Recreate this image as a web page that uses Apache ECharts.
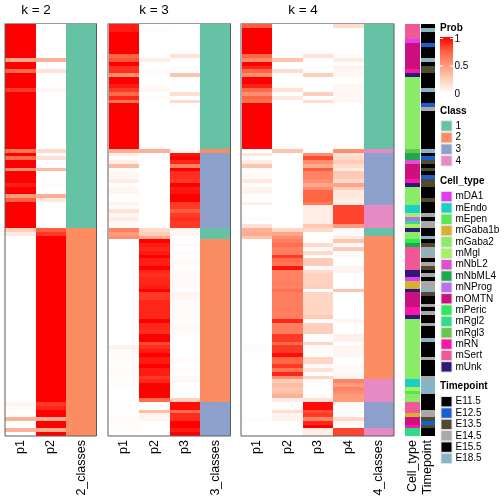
<!DOCTYPE html>
<html><head><meta charset="utf-8">
<style>html,body{margin:0;padding:0;background:#fff}#c{width:504px;height:504px}</style>
<script src="https://cdn.jsdelivr.net/npm/echarts@6/dist/echarts.min.js"></script>
</head><body><div id="c"></div>
<script>
var FONT='"Liberation Sans",Arial,sans-serif';
var probColors=['#ffffff','#ffcfbb','#ff9a7c','#ff5f3f','#ff0000'];
var classNames=['1','2','3','4'];
var classColors=['#66c2a5','#fc8d62','#8da0cb','#e78ac3'];
var cellTypes=['mDA1','mEndo','mEpen','mGaba1b','mGaba2','mMgl','mNbL2','mNbML4','mNProg','mOMTN','mPeric','mRgl2','mRgl3','mRN','mSert','mUnk'];
var cellColors=['#e03cf0','#1ccfc6','#55e84f','#d8b030','#88ec66','#a6f063','#e04fd2','#1ea850','#b96ff2','#cc1080','#28ec58','#30dc88','#66c848','#f818a8','#f05898','#301878'];
var timepoints=['E11.5','E12.5','E13.5','E14.5','E15.5','E18.5'];
var timeColors=['#000000','#1a5fd0','#4f4a32','#a9a9a9','#000000','#87b5c6'];

var k2p1=[1,1,1,1,1,1,1,1,1,.45, 1,1,.7,1,1,1,1,.85,1,1, 1,1,1,1,1,1,1,1,1,1, 1,1,1,.65,1,.7,1,1,.55,1,
 1,1,.92,1,1,.5,.75,1,1,1, 1,1,1,1,.25,.12,0,0,0,0, 0,0,0,0,0,0,0,0,0,0, 0,0,0,0,0,0,0,0,0,0, 0,0,0,0,0,0,0,0,0,0, 0,0,0,0,0,0,0,0,0,0,
 .06,.03,0,0,.4,0,0,.4,0];
var k2p2=[0,0,0,0,0,0,0,0,0,.4, 0,0,.15,0,0,0,0,.05,0,0, 0,0,0,0,0,0,0,0,0,0, 0,0,0,.2,0,.15,0,0,.35,0,
 0,0,.02,0,0,.4,.12,0,0,0, 0,0,0,0,.75,.85,1,1,1,1, 1,1,1,1,1,1,1,1,1,1, 1,1,1,1,1,1,1,1,1,1, 1,1,1,1,1,1,1,1,1,1, 1,1,1,1,1,1,1,1,1,1,
 .85,.9,1,1,.42,1,1,.42,1];
var k3p1=[.93,.93,1,1,1,1,1,1,.72,.78, 1,.88,.88,.55,1,1,.93,.85,.7,.9, .65,1,1,1,1,1,1,1,1,1, 1,1,1,.4,.1,.01,.08,.35,0,.04,
 .04,.1,0,.05,.05,0,0,.06,.03,.15, .05,.1,.03,.03,.6,.5,.55,0,0,0, 0,0,0,0,0,0,0,0,0,0, 0,0,0,0,0,0,0,0,0,0, 0,0,0,0,0,.08,.03,.01,.01,.01, .01,.02,.02,.01,.01,.01,0,0,0,0,
 .01,.01,.01,.01,.02,.01,.01,.01,.01];
var k3p2=[0,.02,0,0,0,0,0,0,0,.1, 0,0,.03,0,0,0,.02,.04,0,.03, 0,0,0,0,0,0,0,0,0,0, 0,0,0,.4,0,0,0,0,0,0,
 0,0,0,0,0,0,0,0,0,0, 0,0,0,0,.2,.25,.42,1,.93,.9, .93,1,.92,.92,1,.9,.87,.9,.9,.92, 1,.85,.85,.9,.9,.9,.9,.9,1,.9, .9,.87,1,1,.8,.88,.93,1,.93,.93, 1,.93,.93,.85,.9,1,1,1,1,.7,
 0,.02,.33,.06,.05,0,0,0,0];
var k3p3=[0,0,0,0,0,0,0,0,.15,0, 0,.03,0,.3,0,0,0,0,.17,0, .2,0,0,0,0,0,0,0,0,0, 0,0,0,.05,.95,1,.9,.6,1,.88,
 .88,.85,1,.92,.95,1,1,.85,.85,.75, .85,.88,.85,.85,.05,.04,0,0,.03,0, .02,0,.02,.03,0,.03,.03,.03,.03,.03, 0,.05,.05,.02,.02,.02,.02,.02,0,.03, .03,.02,0,0,0,0,0,0,.03,.03, 0,.02,0,.04,.04,0,0,0,0,.25,
 .97,.97,.7,.88,.88,1,1,.93,1];
var k4p1=[.75,1,1,1,1,1,1,1,.72,.55, 1,.9,.72,.55,1,1,.92,.7,.55,.72, .65,1,1,1,1,1,1,1,1,1, 1,1,1,0,.13,0,.1,.3,0,.03,
 .03,.12,0,.06,.06,0,0,.08,0,0, 0,.02,0,.15,.4,.42,.3,0,0,0, 0,0,0,0,0,0,0,0,0,0, 0,0,0,0,0,0,0,0,0,0, 0,0,0,0,0,.02,.02,0,0,0, 0,0,0,0,0,0,0,0,0,0,
 0,0,0,0,.02,0,0,0,0];
var k4p2=[0,0,0,0,0,0,0,0,0,.3, 0,0,.17,0,0,0,.03,.15,0,.12, 0,0,0,0,0,0,0,0,0,0, 0,0,0,.3,0,0,0,0,0,0,
 0,0,0,0,0,0,0,0,0,0, 0,0,0,0,.22,.45,.55,.62,.68,.62, .62,.85,.7,.65,.95,.6,.6,.6,.62,.6, .68,.62,.62,.62,.62,.62,.62,.62,.9,.62, .62,.62,.85,.85,.7,.85,.85,.97,.72,.72, .85,.65,.9,.55,.25,.35,.3,.33,.4,.1,
 0,.01,.17,.06,.06,0,0,0,0];
var k4p3=[0,0,0,0,0,0,0,0,.15,0, 0,.02,0,.25,0,0,0,0,.25,0, .17,0,0,0,0,0,0,0,0,0, 0,0,0,0,.55,.8,.55,.42,.75,.6,
 .6,.55,.45,.55,.72,.72,.72,.65,.1,.1, .1,.1,.1,.28,.2,0,0,0,.2,.03, .2,.01,.27,.27,.03,.2,.24,.24,.24,.25, 0,.22,.22,.22,.22,.22,.22,.28,0,.25, .25,.25,0,0,.22,.02,.03,0,.22,.22, .02,.15,.01,.22,.01,.01,.01,.01,.01,.15,
 .97,.97,.8,.85,.6,.9,1,.1,.1];
var k4p4=[.18,0,0,0,0,0,0,0,.03,.1, 0,.08,.04,.04,0,0,.04,.04,.04,.04, .04,0,0,0,0,0,0,0,0,0, 0,0,0,.55,.15,.2,.27,.2,.1,.28,
 .28,.2,.45,.25,.12,.12,.1,.1,.82,.82, .82,.82,.82,.5,.03,.03,.1,.3,.02,.28, .01,.04,0,0,.06,.06,0,0,0,0, .3,0,0,0,0,0,0,0,.04,0, 0,0,.08,.08,0,.05,.05,.05,0,0, .03,.02,.05,.05,.6,.5,.6,.55,.5,.5,
 .03,.01,.01,.01,.2,.05,0,.82,.82];

// class membership, written as [class, number of rows] from top to bottom
var k2classRuns=[[1,54],[2,55]];
var k3classRuns=[[1,33],[2,1],[3,20],[1,3],[2,43],[3,9]];
var k4classRuns=[[1,33],[4,1],[3,14],[4,6],[1,2],[2,38],[4,6],[3,7],[4,2]];
var cellRuns=[['mSert',4],['mDA1',1],['mOMTN',7],['mRN',1],['mUnk',1],['mGaba2',19],['mRgl3',1],['mNbML4',2],['mNbL2',1],['mOMTN',4],['mRN',1],['mUnk',1],['mGaba2',5],['mEndo',2],['mMgl',1],['mNProg',1],['mRgl2',1],['mMgl',1],['mUnk',1],['mGaba2',2],['mPeric',1],['mNbML4',1],['mSert',6],['mUnk',2],['mDA1',1],['mGaba1b',2],['mUnk',1],['mOMTN',4],['mRN',2],['mUnk',1],['mGaba2',16],['mEndo',2],['mMgl',1],['mEpen',1],['mGaba2',2],['mSert',3],['mGaba1b',1],['mOMTN',2],['mRN',1],['mRgl2',2]];
var timeRuns=[['E15.5',1],['E18.5',1],['E15.5',3],['E12.5',1],['E15.5',3],['E18.5',1],['E15.5',1],['E13.5',2],['E15.5',4],['E18.5',1],['E15.5',3],['E12.5',1],['E14.5',1],['E15.5',10],['E18.5',1],['E15.5',1],['E12.5',1],['E13.5',1],['E15.5',1],['E13.5',1],['E15.5',1],['E12.5',1],['E13.5',2],['E15.5',3],['E13.5',1],['E15.5',3],['E14.5',1],['E15.5',1],['E14.5',2],['E15.5',2],['E18.5',1],['E15.5',1],['E13.5',1],['E14.5',1],['E18.5',1],['E14.5',1],['E15.5',1],['E14.5',1],['E13.5',1],['E15.5',1],['E14.5',1],['E15.5',1],['E14.5',2],['E18.5',1],['E13.5',1],['E15.5',2],['E14.5',1],['E15.5',1],['E14.5',1],['E15.5',2],['E14.5',1],['E15.5',3],['E18.5',1],['E15.5',4],['E14.5',1],['E15.5',4],['E14.5',1],['E18.5',4],['E15.5',4],['E14.5',2],['E13.5',1],['E12.5',1],['E13.5',1],['E15.5',2]];

function expand(runs){var o=[];runs.forEach(function(r){for(var i=0;i<r[1];i++)o.push(r[0]);});return o;}
var rowCount=k2p1.length, rows=[];for(var r=0;r<rowCount;r++)rows.push(r);

var panels=[
 {title:'k = 2',titleX:36,left:5.5,width:91,cols:['p1','p2','2_classes'],prob:[k2p1,k2p2],classes:k2classRuns},
 {title:'k = 3',titleX:154,left:108.5,width:122,cols:['p1','p2','p3','3_classes'],prob:[k3p1,k3p2,k3p3],classes:k3classRuns},
 {title:'k = 4',titleX:303,left:241.5,width:152.5,cols:['p1','p2','p3','p4','4_classes'],prob:[k4p1,k4p2,k4p3,k4p4],classes:k4classRuns}
];
var TOP=24,H=412;
var grids=[],xAxes=[],yAxes=[],series=[],titles=[],graphics=[];
var probSeries=[],classSeries=[],cellSeries=[],timeSeries=[];
function addGrid(left,width,cats){
 var i=grids.length;
 grids.push({left:left,top:TOP,width:width,height:H,containLabel:false});
 xAxes.push({type:'category',gridIndex:i,data:cats,position:'bottom',axisTick:{show:false},axisLine:{show:false},splitLine:{show:false},
  axisLabel:{rotate:90,margin:4,fontSize:12.5,fontFamily:FONT,color:'#000',interval:0}});
 yAxes.push({type:'category',gridIndex:i,data:rows,inverse:true,show:false});
 return i;
}
// one pixel-snapped cell per datum, placed through the axes' own scales
function renderCell(params,api){
 var c=api.coord([api.value(0),api.value(1)]),s=api.size([1,1]);
 var x0=Math.round(c[0]-s[0]/2),x1=Math.round(c[0]+s[0]/2),y0=Math.round(c[1]-s[1]/2),y1=Math.round(c[1]+s[1]/2);
 return {type:'rect',shape:{x:x0,y:y0,width:x1-x0,height:y1-y0},style:{fill:api.visual('color')}};
}
function heat(i,data){series.push({type:'custom',renderItem:renderCell,coordinateSystem:'cartesian2d',xAxisIndex:i,yAxisIndex:i,data:data,encode:{x:0,y:1},progressive:0,animation:false,silent:true});return series.length-1;}
panels.forEach(function(p){
 var i=addGrid(p.left,p.width,p.cols),d=[];
 p.prob.forEach(function(col,c){col.forEach(function(v,y){d.push([c,y,v]);});});
 probSeries.push(heat(i,d));
 var cd=expand(p.classes).map(function(v,y){return [p.prob.length,y,classNames.indexOf(String(v))];});
 classSeries.push(heat(i,cd));
 titles.push({text:p.title,left:p.titleX,top:3,padding:0,textAlign:'center',textStyle:{fontFamily:FONT,fontSize:13.5,fontWeight:'normal',color:'#000'}});
 graphics.push({type:'rect',z:50,silent:true,shape:{x:p.left-.5,y:TOP-.5,width:p.width+.5,height:H+.5},style:{fill:'none',stroke:'#5c5c5c',lineWidth:1}});
 graphics.push({type:'line',z:51,silent:true,shape:{x1:p.left-.5,y1:TOP-.5,x2:p.left+p.width,y2:TOP-.5},style:{stroke:'#9a9a9a',lineWidth:1}});
});
var gc=addGrid(405,15,['Cell_type']);
cellSeries.push(heat(gc,expand(cellRuns).map(function(v,y){return [0,y,cellTypes.indexOf(v)];})));
var gt=addGrid(421,14,['Timepoint']);
timeSeries.push(heat(gt,expand(timeRuns).map(function(v,y){return [0,y,timepoints.indexOf(v)];})));

function pieces(colors){return colors.map(function(c,i){return {value:i,color:c};});}
var visualMaps=[
 {type:'continuous',show:false,min:0,max:1,dimension:2,seriesIndex:probSeries,inRange:{color:probColors}},
 {type:'piecewise',show:false,dimension:2,seriesIndex:classSeries,pieces:pieces(classColors)},
 {type:'piecewise',show:false,dimension:2,seriesIndex:cellSeries,pieces:pieces(cellColors)},
 {type:'piecewise',show:false,dimension:2,seriesIndex:timeSeries,pieces:pieces(timeColors)}
];

// legends
function label(t,x,y,bold){graphics.push({type:'text',silent:true,style:{text:t,x:x,y:y,fill:'#000',font:(bold?'bold ':'')+'10px '+FONT,textVerticalAlign:'middle',verticalAlign:'middle'}});}
function swatchList(title,titleY,names,colors,firstY,step){
 label(title,440,titleY,true);
 names.forEach(function(n,i){
  var y=firstY+i*step;
  graphics.push({type:'rect',silent:true,shape:{x:441,y:y-5.2,width:11,height:10.4},style:{fill:colors[i],stroke:'#e2e2e2',lineWidth:1}});
  label(n,455.5,y,false);
 });
}
label('Prob',440,28,true);
graphics.push({type:'rect',silent:true,shape:{x:440,y:37,width:13,height:56.5},style:{fill:new echarts.graphic.LinearGradient(0,0,0,1,probColors.slice().reverse().map(function(c,i){return {offset:i/4,color:c};}))}});
[[39,'1'],[66.5,'0.5'],[94,'0']].forEach(function(t){
 label(t[1],454.5,t[0],false);
 graphics.push({type:'line',silent:true,shape:{x1:440,y1:t[0]-.5,x2:443,y2:t[0]-.5},style:{stroke:'#fff',lineWidth:1}});
 graphics.push({type:'line',silent:true,shape:{x1:450,y1:t[0]-.5,x2:453,y2:t[0]-.5},style:{stroke:'#fff',lineWidth:1}});
});
swatchList('Class',111.5,classNames,classColors,126,11.6);
swatchList('Cell_type',181.5,cellTypes,cellColors,196.6,11.35);
swatchList('Timepoint',386.5,timepoints,timeColors,401.7,11.35);

var chart=echarts.init(document.getElementById('c'),null,{renderer:'canvas'});
chart.setOption({animation:false,backgroundColor:'#fff',title:titles,grid:grids,xAxis:xAxes,yAxis:yAxes,visualMap:visualMaps,series:series,graphic:{elements:graphics}});
</script></body></html>
